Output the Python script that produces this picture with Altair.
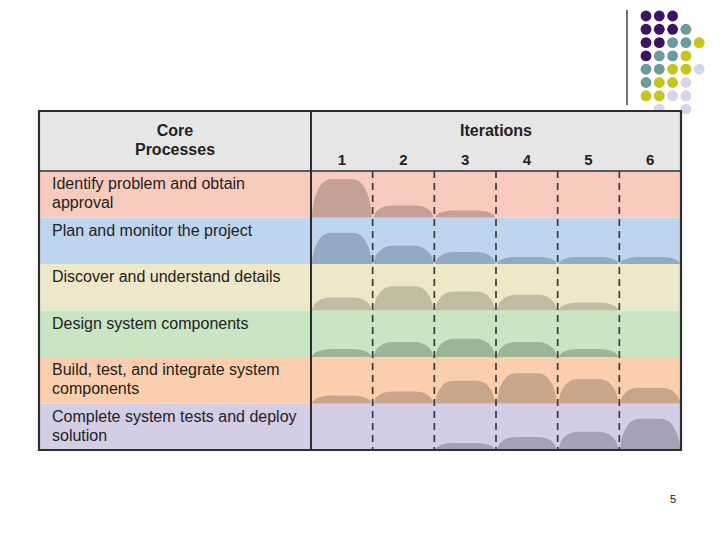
import altair as alt
import pandas as pd

# ---------------- data ----------------
process_lines = [
    ["Identify problem and obtain", "approval"],
    ["Plan and monitor the project"],
    ["Discover and understand details"],
    ["Design system components"],
    ["Build, test, and integrate system", "components"],
    ["Complete system tests and deploy", "solution"],
]
iterations = ["1", "2", "3", "4", "5", "6"]
# effort per process per iteration, as % of row height
effort = [
    [82, 26, 15, 0, 0, 0],
    [67, 39, 26, 15, 15, 15],
    [28, 52, 41, 34, 17, 0],
    [17, 32, 39, 32, 17, 0],
    [17, 26, 49, 65, 52, 34],
    [0, 0, 15, 28, 39, 67],
]
row_fill = ["#F9CBBE", "#BFD5EE", "#EEE8C8", "#C9E5C4", "#FBCFAE", "#D4CDE6"]
hump_fill = ["#C4A097", "#94A9C2", "#C2BDA2", "#9CB598", "#C9A589", "#A7A1B8"]
header_left = ["Core", "Processes"]
header_right = "Iterations"
page_number = "5"
dot_rows = ["PPP", "PPPT", "PPTTY", "PTTY", "TTYYL", "TYYL", "YYLL", ".L.L"]
dot_colors = {"P": "#3C1466", "T": "#6B9C9C", "Y": "#C6C41E", "L": "#D6D6EA"}

# ---------------- style / layout ----------------
W, H, M = 704, 524, 8
TL, TR, TT, HB, RB, DIV = 39, 681, 111, 171, 450, 311
CW = (TR - DIV) / 6
RH = (RB - HB) / 6
FONT = "Liberation Sans"
INK = "#222222"
LINE = "#2E2E2E"
# dome outline of one hump (fraction of column width, fraction of height)
PROFILE_X = [0.0, 0.03, 0.1, 0.2, 0.32, 0.68, 0.8, 0.9, 0.97, 1.0]
PROFILE_Y = [0.0, 0.35, 0.7, 0.93, 1.0, 1.0, 0.93, 0.7, 0.35, 0.0]


def ux(px):
    return (px - DIV) / CW


def uy(py):
    return (py - HB) / RH


xs = alt.Scale(domain=[ux(M), ux(M + W)], nice=False, zero=False)
ys = alt.Scale(domain=[uy(M), uy(M + H)], reverse=True, nice=False, zero=False)


def X(f="x"):
    return alt.X(f + ":Q", scale=xs, axis=None)


def Y(f="y"):
    return alt.Y(f + ":Q", scale=ys, axis=None)


# decoration dots
dots = []
for r, row in enumerate(dot_rows):
    for c, ch in enumerate(row):
        if ch in dot_colors:
            dots.append({"x": ux(646 + c * 13.3), "y": uy(16 + r * 13.3), "fill": dot_colors[ch]})
dots_layer = alt.Chart(pd.DataFrame(dots)).mark_point(
    shape="circle", filled=True, size=118, opacity=1
).encode(x=X(), y=Y(), fill=alt.Fill("fill:N", scale=None))

deco_line = alt.Chart(pd.DataFrame([{"x": ux(627), "y": uy(10), "y2": uy(105)}])).mark_rule(
    color="#111111", strokeWidth=1.2
).encode(x=X(), y=Y(), y2="y2:Q")

# header background
header_bg = alt.Chart(pd.DataFrame([{"x": ux(TL), "x2": 6, "y": uy(TT), "y2": 0}])).mark_rect(
    fill="#E6E6E6"
).encode(x=X(), x2="x2:Q", y=Y(), y2="y2:Q")

# row backgrounds
bg = pd.DataFrame([
    {"x": ux(TL), "x2": 6, "y": r, "y2": r + 1, "fill": row_fill[r]} for r in range(6)
])
bg_layer = alt.Chart(bg).mark_rect().encode(
    x=X(), x2="x2:Q", y=Y(), y2="y2:Q", fill=alt.Fill("fill:N", scale=None)
)

# humps (one dome per process and iteration, height = effort)
hr = []
for r in range(6):
    for i in range(6):
        v = effort[r][i]
        if v > 0:
            for fx, fy in zip(PROFILE_X, PROFILE_Y):
                hr.append({
                    "id": f"{r}-{i}",
                    "x": i + 0.01 + fx * 0.98,
                    "y": r + 1 - v / 100.0 * fy, "y2": r + 1,
                    "fill": hump_fill[r],
                })
humps = alt.Chart(pd.DataFrame(hr)).mark_area(interpolate="monotone", opacity=1).encode(
    x=X(), y=Y(), y2="y2:Q", detail="id:N", fill=alt.Fill("fill:N", scale=None)
)

# dashed separators
dashes = alt.Chart(pd.DataFrame([{"x": k, "y": 0, "y2": 6} for k in range(1, 6)])).mark_rule(
    color="#3A3A3A", strokeWidth=1.7, strokeDash=[7, 5]
).encode(x=X(), y=Y(), y2="y2:Q")

# borders
outer = alt.Chart(pd.DataFrame([{"x": ux(TL), "x2": 6, "y": uy(TT), "y2": 6}])).mark_rect(
    fill=None, filled=False, stroke=LINE, strokeWidth=2.2
).encode(x=X(), x2="x2:Q", y=Y(), y2="y2:Q")
divider = alt.Chart(pd.DataFrame([{"x": 0, "y": uy(TT), "y2": 6}])).mark_rule(
    color=LINE, strokeWidth=2
).encode(x=X(), y=Y(), y2="y2:Q")
hline = alt.Chart(pd.DataFrame([{"x": ux(TL), "x2": 6, "y": 0}])).mark_rule(
    color=LINE, strokeWidth=1.6
).encode(x=X(), x2="x2:Q", y=Y())

# row labels
lab = []
for r, lines in enumerate(process_lines):
    for j, t in enumerate(lines):
        lab.append({"x": ux(52), "y": r + (13 + 19 * j) / RH, "text": t})
labels = alt.Chart(pd.DataFrame(lab)).mark_text(
    align="left", baseline="middle", font=FONT, fontSize=16, color=INK
).encode(x=X(), y=Y(), text="text:N")

# header texts
ht = [
    {"x": ux((TL + DIV) / 2), "y": uy(131), "text": header_left[0]},
    {"x": ux((TL + DIV) / 2), "y": uy(150), "text": header_left[1]},
    {"x": 3, "y": uy(131), "text": header_right},
]
header_text = alt.Chart(pd.DataFrame(ht)).mark_text(
    align="center", baseline="middle", font=FONT, fontSize=16, fontWeight="bold", color=INK
).encode(x=X(), y=Y(), text="text:N")

nums = alt.Chart(pd.DataFrame([
    {"x": i + 0.5, "y": uy(160), "text": t} for i, t in enumerate(iterations)
])).mark_text(
    align="center", baseline="middle", font=FONT, fontSize=15, fontWeight="bold", color=INK
).encode(x=X(), y=Y(), text="text:N")

pnum = alt.Chart(pd.DataFrame([{"x": ux(673), "y": uy(500), "text": page_number}])).mark_text(
    align="center", baseline="middle", font=FONT, fontSize=11, color="#111111"
).encode(x=X(), y=Y(), text="text:N")

chart = alt.layer(
    dots_layer, deco_line, header_bg, bg_layer, humps, dashes,
    outer, divider, hline, labels, header_text, nums, pnum
).properties(
    width=W, height=H, padding=0, autosize=alt.AutoSizeParams(type="none"), background="white"
).configure_view(stroke=None)

chart.save("out.html", embed_options={"renderer": "svg", "actions": False})
